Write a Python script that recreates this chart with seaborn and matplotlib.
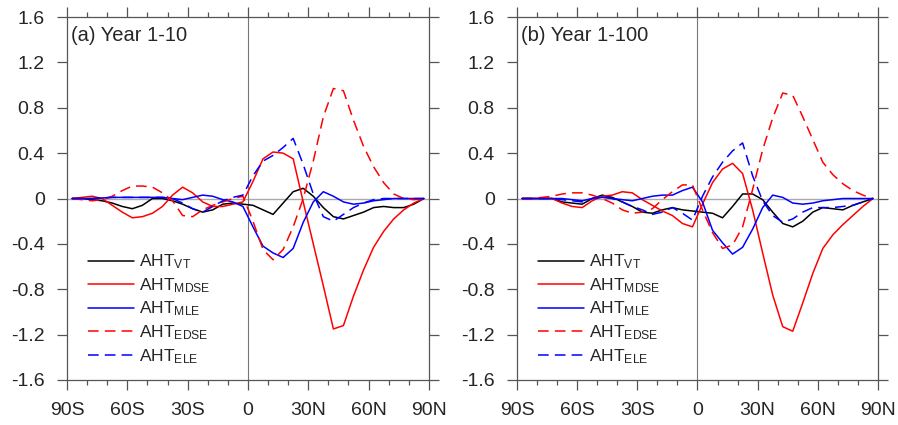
import numpy as np
import pandas as pd
import matplotlib
matplotlib.use("Agg")
import matplotlib.pyplot as plt
import seaborn as sns
from matplotlib.ticker import MultipleLocator

# latitudes (5 degree grid, 87.5S .. 87.5N)
lat = np.arange(-87.5, 90, 5.0)

# (a) Year 1-10
vt_a = [0, 0, -0.01, -0.02, -0.04, -0.07, -0.09, -0.06, 0.0, 0.0, -0.02, -0.05,
        -0.09, -0.12, -0.10, -0.05, -0.04, -0.05, -0.06, -0.10, -0.14, -0.04,
        0.06, 0.09, 0.02, -0.08, -0.16, -0.18, -0.15, -0.12, -0.08, -0.07,
        -0.08, -0.08, -0.05, 0]
mdse_a = [0, 0.01, 0.02, 0.0, -0.06, -0.12, -0.17, -0.16, -0.13, -0.07, 0.03, 0.10,
          0.05, -0.03, -0.07, -0.07, -0.05, -0.03, 0.15, 0.35, 0.41, 0.40,
          0.35, -0.03, -0.40, -0.77, -1.15, -1.12, -0.86, -0.63, -0.43, -0.29,
          -0.18, -0.10, -0.04, 0]
mle_a = [0, 0, 0, 0.005, 0.01, 0.01, 0.01, 0.01, 0.01, 0.01, 0.0, -0.01,
         0.01, 0.03, 0.02, -0.01, -0.03, -0.07, -0.25, -0.42, -0.48, -0.52,
         -0.44, -0.21, -0.03, 0.06, 0.02, -0.03, -0.05, -0.04, -0.02, -0.01,
         0, 0, 0, 0]
edse_a = [0, -0.01, -0.02, -0.01, 0.02, 0.07, 0.11, 0.11, 0.10, 0.05, -0.02, -0.15,
          -0.16, -0.10, -0.06, -0.03, 0.0, 0.02, -0.20, -0.45, -0.54, -0.45,
          -0.25, 0.0, 0.33, 0.72, 0.97, 0.95, 0.69, 0.46, 0.28, 0.14,
          0.04, 0.0, -0.01, 0]
ele_a = [0, 0, 0, 0.005, 0.01, 0.01, 0.01, 0.01, 0.01, 0.01, 0.0, -0.04,
         -0.09, -0.12, -0.07, -0.02, 0.01, 0.03, 0.20, 0.33, 0.38, 0.45,
         0.53, 0.30, 0.04, -0.16, -0.20, -0.14, -0.08, -0.04, -0.01, 0,
         0, 0, 0, 0]

# (b) Year 1-100
vt_b = [0, 0, 0, 0, -0.03, -0.04, -0.05, 0.0, 0.03, 0.01, -0.03, -0.07,
        -0.12, -0.13, -0.10, -0.08, -0.10, -0.11, -0.12, -0.13, -0.17, -0.07,
        0.04, 0.04, -0.01, -0.12, -0.22, -0.25, -0.20, -0.12, -0.08, -0.09,
        -0.10, -0.06, -0.03, 0]
mdse_b = [0, 0, 0, 0, -0.04, -0.07, -0.08, -0.02, 0.02, 0.03, 0.06, 0.05,
          -0.01, -0.06, -0.11, -0.15, -0.22, -0.25, -0.05, 0.14, 0.26, 0.31,
          0.22, -0.10, -0.48, -0.85, -1.13, -1.17, -0.92, -0.66, -0.44, -0.32,
          -0.23, -0.15, -0.07, 0]
mle_b = [0, 0, 0, 0, 0.0, -0.01, -0.02, 0.0, 0.01, 0.0, -0.01, -0.02,
         0.0, 0.02, 0.03, 0.03, 0.07, 0.10, -0.03, -0.28, -0.39, -0.49,
         -0.43, -0.27, -0.08, 0.03, 0.01, -0.04, -0.05, -0.04, -0.02, -0.01,
         0, 0, 0, 0]
edse_b = [0, 0, 0.01, 0.02, 0.04, 0.05, 0.05, 0.03, 0.0, -0.04, -0.10, -0.13,
          -0.12, -0.09, -0.01, 0.06, 0.12, 0.12, -0.10, -0.30, -0.44, -0.41,
          -0.25, 0.08, 0.43, 0.71, 0.93, 0.91, 0.72, 0.52, 0.32, 0.21,
          0.13, 0.07, 0.03, 0]
ele_b = [0, 0, 0, 0, -0.01, -0.02, -0.03, 0.0, 0.02, 0.0, -0.03, -0.07,
         -0.10, -0.14, -0.12, -0.08, -0.13, -0.19, 0.02, 0.19, 0.32, 0.42,
         0.49, 0.20, -0.02, -0.15, -0.21, -0.18, -0.12, -0.08, -0.08, -0.08,
         -0.07, -0.06, -0.03, 0]

panels = [
    ("(a) Year 1-10", [vt_a, mdse_a, mle_a, edse_a, ele_a]),
    ("(b) Year 1-100", [vt_b, mdse_b, mle_b, edse_b, ele_b]),
]
names = ["AHT$_{VT}$", "AHT$_{MDSE}$", "AHT$_{MLE}$", "AHT$_{EDSE}$", "AHT$_{ELE}$"]
colors = ["black", "red", "blue", "red", "blue"]
styles = ["-", "-", "-", (0, (7, 4)), (0, (7, 4))]

xticks = [-90, -60, -30, 0, 30, 60, 90]
xticklabels = ["90S", "60S", "30S", "0", "30N", "60N", "90N"]
yticks = [-1.6, -1.2, -0.8, -0.4, 0, 0.4, 0.8, 1.2, 1.6]
yticklabels = ["-1.6", "-1.2", "-0.8", "-0.4", "0", "0.4", "0.8", "1.2", "1.6"]

sns.set_theme(style="ticks")
plt.rcParams["font.family"] = ["Liberation Sans", "DejaVu Sans"]
plt.rcParams["mathtext.default"] = "regular"

fig = plt.figure(figsize=(8.98, 4.25), dpi=100)
axes = [fig.add_axes([0.0746, 0.1059, 0.403, 0.854]),
        fig.add_axes([0.5757, 0.1059, 0.402, 0.854])]

for ax, (title, series) in zip(axes, panels):
    ax.axhline(0, color="#aaaaaa", lw=1.0, zorder=1)
    ax.axvline(0, color="#777777", lw=0.8, zorder=1)
    for vals, name, c, ls in zip(series, names, colors, styles):
        df = pd.DataFrame({"lat": lat, "val": vals})
        sns.lineplot(data=df, x="lat", y="val", ax=ax, color=c, linestyle=ls,
                     lw=1.1, label=name, zorder=3)
    ax.set_xlim(-90, 90)
    ax.set_ylim(-1.6, 1.6)
    ax.set_xticks(xticks)
    ax.set_xticklabels(xticklabels)
    ax.set_yticks(yticks)
    ax.set_yticklabels(yticklabels)
    ax.xaxis.set_minor_locator(MultipleLocator(10))
    ax.set_xlabel("")
    ax.set_ylabel("")
    for sp in ax.spines.values():
        sp.set_visible(True)
        sp.set_color("#555555")
        sp.set_linewidth(0.9)
    ax.tick_params(which="both", direction="out", top=True, right=True,
                   color="#555555", width=0.9)
    ax.tick_params(which="major", length=7, labelsize=14, pad=9)
    ax.tick_params(which="minor", length=3.5)
    ax.text(0.012, 0.975, title, transform=ax.transAxes, ha="left", va="top",
            fontsize=14.5)
    leg = ax.legend(loc="upper left", bbox_to_anchor=(0.04, 0.37), frameon=False,
                    fontsize=12.5, handlelength=2.6, handletextpad=0.3,
                    labelspacing=0.28, borderaxespad=0)

fig.savefig("out.png", dpi=100)
